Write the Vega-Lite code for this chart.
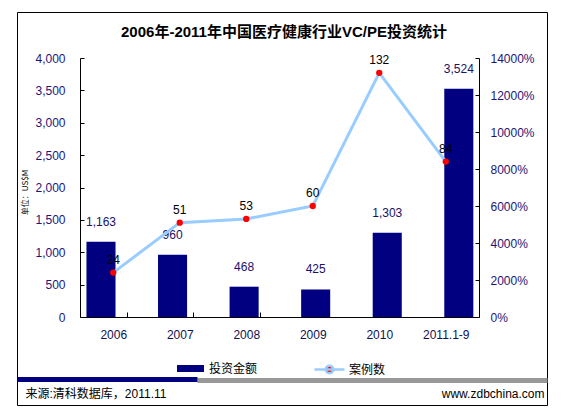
{
  "$schema": "https://vega.github.io/schema/vega-lite/v6.json",
  "width": 530,
  "height": 393,
  "autosize": {"type": "none"},
  "padding": {"left": 17, "top": 12, "right": 17, "bottom": 9},
  "background": "#ffffff",
  "config": {
    "view": {"stroke": "#000000", "strokeWidth": 1},
    "font": "Liberation Sans, Noto Sans CJK SC",
    "axis": {"labelFont": "Liberation Sans", "labelFontSize": 12, "domainColor": "#000000", "tickColor": "#000000", "grid": false, "titleFont": "Liberation Sans, Noto Sans CJK SC", "titleFontWeight": "normal", "titleColor": "#000000"},
    "legend": {"labelFont": "Noto Sans CJK SC", "labelFontSize": 12, "labelColor": "#000000", "padding": 0}
  },
  "title": {"text": "2006年-2011年中国医疗健康行业VC/PE投资统计", "font": "Liberation Sans, Noto Sans CJK SC", "fontSize": 15, "fontWeight": "bold", "color": "#000000", "anchor": "middle", "offset": -28, "dx": 2},
  "data": {"values": [
    {"year": "2006", "amount": 1163, "cases": 24},
    {"year": "2007", "amount": 960, "cases": 51},
    {"year": "2008", "amount": 468, "cases": 53},
    {"year": "2009", "amount": 425, "cases": 60},
    {"year": "2010", "amount": 1303, "cases": 132},
    {"year": "2011.1-9", "amount": 3524, "cases": 84}
  ]},
  "layer": [
    {
      "mark": {"type": "point", "opacity": 0},
      "encoding": {
        "x": {"field": "year", "type": "ordinal", "sort": null, "axis": null},
        "y": {"field": "amount", "type": "quantitative", "scale": {"domain": [-965, 4000], "range": [367.5, 46], "nice": false, "zero": false},
          "axis": {
            "orient": "left", "domain": false, "labels": false, "ticks": false, "title": null,
            "values": [-965, -964.99],
            "grid": true, "gridOpacity": 1, "gridWidth": 5,
            "gridColor": {"condition": {"test": "datum.value < -964.995", "value": "#999999"}, "value": "#000080"},
            "gridDash": {"condition": {"test": "datum.value < -964.995", "value": [0, 180, 1000]}, "value": [180, 1000]}
          }
        }
      }
    },
    {
      "encoding": {
        "x": {"field": "year", "type": "ordinal", "sort": null, "scale": {"paddingInner": 0.594, "paddingOuter": 1.282, "align": 0.4853}, "axis": null},
        "y": {"field": "amount", "type": "quantitative", "scale": {"domain": [0, 4000], "range": [305, 46], "nice": false},
          "axis": {
            "orient": "left", "offset": -63,
            "values": [0, 500, 1000, 1500, 2000, 2500, 3000, 3500, 4000],
            "labelExpr": "format(datum.value, ',')",
            "labelColor": "#23137a", "labelPadding": 19, "tickSize": -4,
            "title": "单位：US$M", "titleX": -55, "titleY": 180, "titleAlign": "center", "titleBaseline": "middle", "titleAngle": -90, "titleFontSize": 8, "titleFont": "Noto Sans CJK SC"
          }
        }
      },
      "layer": [
        {"mark": {"type": "bar"},
         "encoding": {"color": {"datum": "投资金额", "type": "nominal", "scale": {"range": ["#000080"]},
           "legend": {"orient": "none", "legendX": 160, "legendY": 343, "title": null, "symbolType": "M-1,-0.26H1V0.26H-1Z", "symbolSize": 729, "symbolStrokeWidth": 0, "labelOffset": 5}}}},
        {"mark": {"type": "text", "dy": -20, "fontSize": 12, "color": "#1a1066", "font": "Liberation Sans"},
         "encoding": {"text": {"field": "amount", "type": "quantitative", "format": ","}}}
      ]
    },
    {
      "encoding": {
        "x": {"field": "year", "type": "ordinal", "sort": null, "scale": {"range": [63, 462], "paddingInner": 0.594, "paddingOuter": 0.297},
          "axis": {"orient": "bottom", "offset": -88, "tickBand": "extent", "tickSize": -5, "labelPadding": 17, "labelAngle": 0, "labelColor": "#101050",
            "title": "来源:清科数据库，2011.11", "titleX": 8, "titleY": 76, "titleAlign": "left", "titleBaseline": "middle", "titleFontSize": 12}},
        "y": {"field": "cases", "type": "quantitative", "scale": {"domain": [0, 140], "range": [305, 46], "nice": false},
          "axis": {"orient": "right", "offset": -68, "values": [0, 20, 40, 60, 80, 100, 120, 140],
            "labelExpr": "format(datum.value * 100, 'd') + '%'", "labelPadding": 15, "tickSize": -4, "labelColor": "#23137a",
            "title": "www.zdbchina.com", "titleX": 65, "titleY": 381, "titleAlign": "right", "titleBaseline": "middle", "titleAngle": 0, "titleFontSize": 12}}
      },
      "layer": [
        {"mark": {"type": "line", "strokeWidth": 3},
         "encoding": {"stroke": {"datum": "案例数", "type": "nominal", "scale": {"range": ["#99CCFF"]},
           "legend": {"orient": "none", "legendX": 296, "legendY": 341, "title": null,
             "symbolType": "M-1,0H1M0.25,0A0.25,0.25,0,1,1,-0.25,0A0.25,0.25,0,1,1,0.25,0Z", "symbolSize": 900, "symbolStrokeWidth": 2.5, "symbolFillColor": "#FF0000", "labelOffset": 3,
             "encode": {"symbols": {"update": {"fill": {"value": "#FF0000"}}}}}}}},
        {"mark": {"type": "circle", "size": 40, "color": "#FF0000", "opacity": 1}},
        {"mark": {"type": "text", "dy": -13, "fontSize": 12, "color": "#000000", "font": "Liberation Sans"},
         "encoding": {"text": {"field": "cases", "type": "quantitative"}}}
      ]
    }
  ],
  "resolve": {"scale": {"x": "independent", "y": "independent"}, "axis": {"x": "independent", "y": "independent"}}
}
